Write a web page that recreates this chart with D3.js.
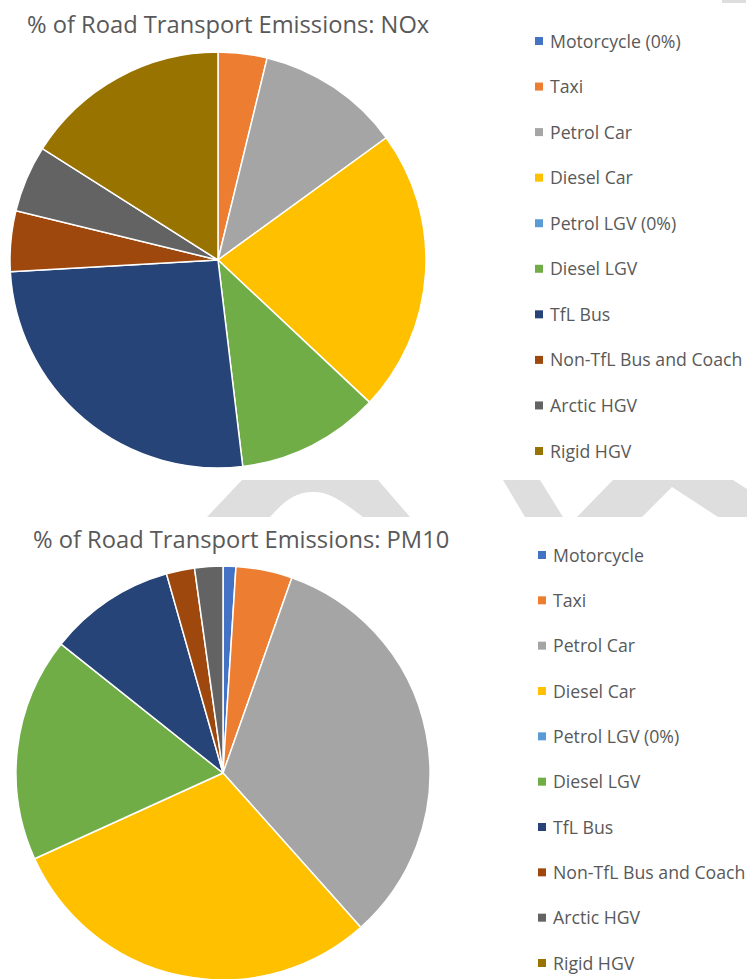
<!DOCTYPE html>
<html>
<head>
<meta charset="utf-8">
<script src="https://cdn.jsdelivr.net/npm/d3@7"></script>
<style>
  body { margin: 0; background: #fff; }
  svg { display: block; font-family: "Open Sans", sans-serif; }
</style>
</head>
<body>
<svg id="chart" width="747" height="979"></svg>
<script>
// vehicle categories, same order in both charts
var categories = ["Motorcycle", "Taxi", "Petrol Car", "Diesel Car", "Petrol LGV",
                  "Diesel LGV", "TfL Bus", "Non-TfL Bus and Coach", "Arctic HGV", "Rigid HGV"];
var colors = ["#4472C4", "#ED7D31", "#A5A5A5", "#FFC000", "#5B9BD5",
              "#70AD47", "#264478", "#9E480E", "#636363", "#997300"];

// % shares
var noxValues  = [0, 3.8, 11.2, 22.0, 0, 11.1, 26.0, 4.7, 5.2, 16.0];
var pm10Values = [1.0, 4.4, 33.0, 29.8, 0, 17.5, 9.9, 2.2, 2.2, 0];

var noxLegend  = ["Motorcycle (0%)", "Taxi", "Petrol Car", "Diesel Car", "Petrol LGV (0%)",
                  "Diesel LGV", "TfL Bus", "Non-TfL Bus and Coach", "Arctic HGV", "Rigid HGV"];
var pm10Legend = ["Motorcycle", "Taxi", "Petrol Car", "Diesel Car", "Petrol LGV (0%)",
                  "Diesel LGV", "TfL Bus", "Non-TfL Bus and Coach", "Arctic HGV", "Rigid HGV"];

var svg = d3.select("#chart");

// faint grey watermark pieces showing between the two charts
var watermark = svg.append("g").attr("fill", "#dedede");
watermark.append("path")
    .attr("d", "M242,480H378L410,517H363C340,500 330,492 313,492C296,492 285,500 270,517H207Z");
watermark.append("path").attr("d", "M503,480H540L563,517H525Z");
watermark.append("path").attr("d", "M613,480H733L747,489V517H718L672,487L642,517H577Z");
watermark.append("rect").attr("x", 722).attr("y", 0).attr("width", 24).attr("height", 3);

var color = d3.scaleOrdinal().domain(categories).range(colors);

function drawPie(opts) {
    var g = svg.append("g");

    g.append("text")
        .attr("x", opts.titleX)
        .attr("y", opts.titleY)
        .attr("fill", "#595959")
        .attr("font-size", 23.7)
        .text(opts.title);

    var pie = d3.pie().sort(null).value(function(d) { return d.value; });
    var arc = d3.arc().innerRadius(0).outerRadius(opts.r);
    var data = categories.map(function(c, i) { return { name: c, value: opts.values[i] }; });

    g.append("g")
        .attr("transform", "translate(" + opts.cx + "," + opts.cy + ")")
        .selectAll("path")
        .data(pie(data).filter(function(d) { return d.data.value > 0; }))
        .join("path")
        .attr("d", arc)
        .attr("fill", function(d) { return color(d.data.name); })
        .attr("stroke", "#fff")
        .attr("stroke-width", 1.5);

    // legend on the right
    var y = d3.scalePoint().domain(categories).range([opts.legendTop, opts.legendBottom]);
    var items = g.append("g").selectAll("g")
        .data(categories)
        .join("g")
        .attr("transform", function(d) { return "translate(" + opts.legendX + "," + y(d) + ")"; });
    items.append("rect")
        .attr("x", 0).attr("y", -4)
        .attr("width", 8).attr("height", 8)
        .attr("fill", function(d) { return color(d); });
    items.append("text")
        .attr("x", 15)
        .attr("y", 6.5)
        .attr("fill", "#595959")
        .attr("font-size", 17.7)
        .text(function(d, i) { return opts.legend[i]; });
}

drawPie({
    title: "% of Road Transport Emissions: NOx",
    titleX: 27, titleY: 33,
    values: noxValues, legend: noxLegend,
    cx: 218, cy: 260, r: 208,
    legendX: 535, legendTop: 41, legendBottom: 451
});

drawPie({
    title: "% of Road Transport Emissions: PM10",
    titleX: 33, titleY: 548,
    values: pm10Values, legend: pm10Legend,
    cx: 223, cy: 773, r: 207,
    legendX: 538, legendTop: 555, legendBottom: 963
});
</script>
</body>
</html>
